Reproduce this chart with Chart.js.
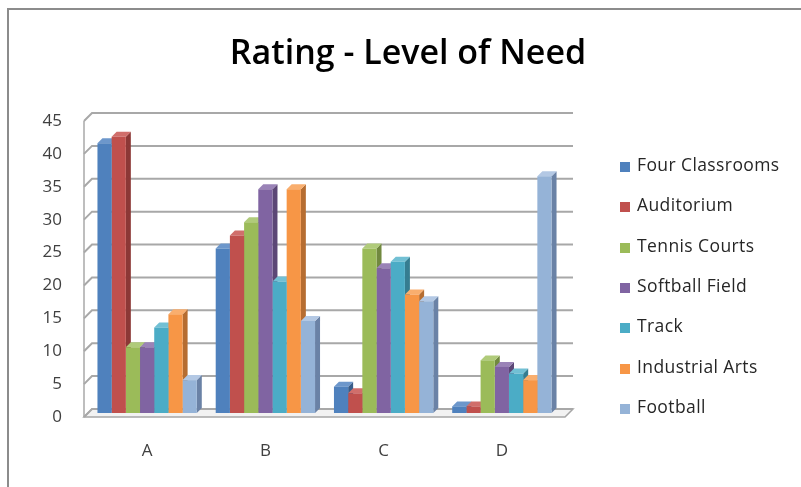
<!DOCTYPE html>
<html>
<head>
<meta charset="utf-8">
<script src="https://cdn.jsdelivr.net/npm/chart.js@4.4.1/dist/chart.umd.min.js"></script>
<style>
  html, body { margin: 0; padding: 0; background: #fff; }
  #wrap { position: relative; width: 801px; height: 487px; overflow: hidden; font-family: "Open Sans", sans-serif; }
  #frame { position: absolute; left: 7px; top: 8px; right: -5px; bottom: -5px;
           border-top: 2px solid #8c8c8c; border-left: 2px solid #8c8c8c; }
  canvas { position: absolute; left: 0; top: 0; }
  #title { position: absolute; left: 208px; width: 400px; top: 31px; line-height: 40px;
           text-align: center; font-size: 34px; font-weight: 600; color: #000; white-space: nowrap; }
  #legend { position: absolute; left: 620px; top: 0; }
  .item { position: absolute; left: 0; height: 20px; line-height: 20px; font-size: 17.5px;
          letter-spacing: 0.4px; color: #262626; white-space: nowrap; }
  .item i { position: absolute; left: 0; top: 8px; width: 10px; height: 10px; }
  .item span { position: absolute; left: 17px; top: 0; }
</style>
</head>
<body>
<div id="wrap">
  <div id="frame"></div>
  <canvas id="need-chart" width="801" height="487"></canvas>
  <div id="title">Rating - Level of Need</div>
  <div id="legend"></div>
</div>
<script>
    var categories = ["A", "B", "C", "D"];
    var seriesNames = ["Four Classrooms", "Auditorium", "Tennis Courts", "Softball Field", "Track", "Industrial Arts", "Football"];
    var fourClassrooms = [41, 25, 4, 1];
    var auditorium = [42, 27, 3, 1];
    var tennisCourts = [10, 29, 25, 8];
    var softballField = [10, 34, 22, 7];
    var track = [13, 20, 23, 6];
    var industrialArts = [15, 34, 18, 5];
    var football = [5, 14, 17, 36];
    var yTicks = [0, 5, 10, 15, 20, 25, 30, 35, 40, 45];

    var seriesValues = [fourClassrooms, auditorium, tennisCourts, softballField, track, industrialArts, football];
    var colors = ["#4F81BD", "#C0504D", "#9BBB59", "#8064A2", "#4BACC6", "#F79646", "#95B3D7"];
    var sideColors = ["#385D8A", "#8C3836", "#71893F", "#5C4776", "#357D91", "#B66D31", "#6A82A6"];
    var topColors = ["#6D97CB", "#D06E6B", "#B0CB7A", "#9A83B7", "#72C0D4", "#F9AE6E", "#B3C8E4"];

    var depth = 5;   // bar side/top faces
    var wall = 4;    // half depth of the floor / back wall

    // legend, built from the same arrays
    var legendBox = document.getElementById("legend");
    seriesNames.forEach(function (name, i) {
        var row = document.createElement("div");
        row.className = "item";
        row.style.top = (154 + i * 40.3) + "px";
        row.innerHTML = '<i style="background:' + colors[i] + '"></i><span>' + name + '</span>';
        legendBox.appendChild(row);
    });

    // fake the 3D look: back wall grid, floor, and bar side/top faces
    var bar3d = {
        id: "bar3d",
        beforeDatasetsDraw: function (chart) {
            var c = chart.ctx;
            var a = chart.chartArea;
            var ys = chart.scales.y;
            c.save();
            // floor
            c.fillStyle = "#f2f2f2";
            c.strokeStyle = "#a6a6a6";
            c.lineWidth = 1.5;
            c.beginPath();
            c.moveTo(a.left - wall, a.bottom + wall);
            c.lineTo(a.left + wall, a.bottom - wall);
            c.lineTo(a.right + wall * 3, a.bottom - wall);
            c.lineTo(a.right + wall, a.bottom + wall);
            c.closePath();
            c.fill();
            c.stroke();
            // back wall grid lines with the left wall edge
            c.strokeStyle = "#a8a8a8";
            c.lineWidth = 2;
            yTicks.forEach(function (v) {
                var y = ys.getPixelForValue(v);
                c.beginPath();
                c.moveTo(a.left - wall, y + wall);
                c.lineTo(a.left + wall, y - wall);
                c.lineTo(a.right + wall * 3, y - wall);
                c.stroke();
            });
            c.lineWidth = 1.5;
            c.beginPath();
            c.moveTo(a.left - wall, ys.getPixelForValue(0) + wall);
            c.lineTo(a.left - wall, ys.getPixelForValue(45) + wall);
            c.stroke();
            // side and top faces, covered by the next bar's front face
            chart.data.datasets.forEach(function (ds, i) {
                var meta = chart.getDatasetMeta(i);
                meta.data.forEach(function (bar) {
                    var p = bar.getProps(["x", "y", "base", "width"], true);
                    var r = p.x + p.width / 2;
                    var l = p.x - p.width / 2;
                    c.fillStyle = sideColors[i];
                    c.beginPath();
                    c.moveTo(r, p.base);
                    c.lineTo(r + depth, p.base - depth);
                    c.lineTo(r + depth, p.y - depth);
                    c.lineTo(r, p.y);
                    c.closePath();
                    c.fill();
                    c.fillStyle = topColors[i];
                    c.beginPath();
                    c.moveTo(l, p.y);
                    c.lineTo(l + depth, p.y - depth);
                    c.lineTo(r + depth, p.y - depth);
                    c.lineTo(r, p.y);
                    c.closePath();
                    c.fill();
                });
            });
            c.restore();
        }
    };

    var datasets = seriesNames.map(function (name, i) {
        return {
            label: name,
            data: seriesValues[i],
            backgroundColor: colors[i],
            borderWidth: 0,
            categoryPercentage: 0.84,
            barPercentage: 1.0
        };
    });

    var ctx = document.getElementById("need-chart").getContext("2d");

    var needChart = new Chart(ctx, {
        type: "bar",
        data: { labels: categories, datasets: datasets },
        plugins: [bar3d],
        options: {
            responsive: false,
            animation: false,
            layout: { padding: { left: 0, right: 240, top: 117, bottom: 0 } },
            plugins: {
                title: { display: false },
                legend: { display: false },
                tooltip: { enabled: false }
            },
            scales: {
                x: {
                    afterFit: function (s) { s.height = 74; },
                    grid: { display: false, drawTicks: false },
                    border: { display: false },
                    ticks: { color: "#404040", font: { family: "Open Sans", size: 17 }, padding: 28 }
                },
                y: {
                    min: 0,
                    max: 45,
                    afterFit: function (s) { s.width = 88; },
                    afterBuildTicks: function (axis) {
                        axis.ticks = yTicks.map(function (v) { return { value: v }; });
                    },
                    grid: { display: false, drawTicks: false },
                    border: { display: false },
                    ticks: { color: "#404040", font: { family: "Open Sans", size: 17 }, padding: 26, labelOffset: 4 }
                }
            }
        }
    });
</script>
</body>
</html>
